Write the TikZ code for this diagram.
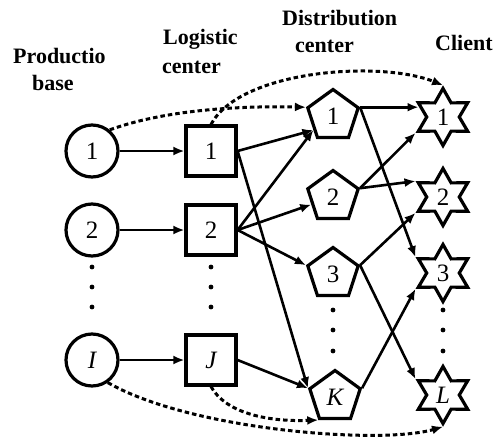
\documentclass[tikz,border=0pt]{standalone}
\usepackage{fontspec}
\setmainfont{Liberation Serif}
\usetikzlibrary{shapes.geometric,arrows.meta,calc}
\begin{document}
\begin{tikzpicture}[x=1pt,y=-1pt,
  every node/.style={inner sep=0pt},
  lbl/.style={font=\fontsize{25}{25}\selectfont},
  prod/.style={lbl,circle,draw,line width=3.2pt,minimum size=52pt},
  logi/.style={lbl,rectangle,draw,line width=3.2pt,minimum size=50pt},
  dist/.style={lbl,regular polygon,regular polygon sides=5,draw,line width=3.2pt,minimum size=53pt},
  cli/.style={lbl,star,star points=6,star point ratio=1.75,draw,line width=3.2pt,minimum size=57pt},
  head/.style={anchor=base west,font=\bfseries\fontsize{22}{22}\selectfont},
  arr/.style={line width=2.6pt,-{Latex[length=11pt,width=9pt]}},
  darr/.style={line width=3pt,dash pattern=on 4.5pt off 3pt,-{Latex[length=11pt,width=9pt]}},
]
\useasboundingbox (0,0) rectangle (493,442);

% headers
\node[head] (hp1) at (13,63) {Productio};
\node[head] (hp2) at (32,90) {base};
\node[head] (hl1) at (163,44) {Logistic};
\node[head] (hl2) at (162,73) {center};
\node[head] (hd1) at (282,25) {Distribution};
\node[head] (hd2) at (295,52) {center};
\node[head] (hc1) at (435,50) {Client};

% production bases
\node[prod] (c1) at (92,151) {1};
\node[prod] (c2) at (92,230) {2};
\node[prod] (cI) at (92,360) {\itshape I};
% logistic centers
\node[logi] (s1) at (211,151) {1};
\node[logi] (s2) at (211,230) {2};
\node[logi] (sJ) at (211,360) {\itshape J};
% distribution centers
\node[dist] (p1) at (333,116) {1};
\node[dist] (p2) at (333,197) {2};
\node[dist] (p3) at (333,274) {3};
\node[dist] (pK) at (335,397) {\itshape K};
% clients
\node[cli] (t1) at (443,117) {1};
\node[cli] (t2) at (443,197) {2};
\node[cli] (t3) at (443,273) {3};
\node[cli] (tL) at (443,395) {\itshape L};

% vertical dots
\foreach \y in {267,287,307} {
  \fill (92,\y) circle (2.4pt);
  \fill (211,\y) circle (2.4pt);
}
\foreach \y in {310,330,351} {
  \fill (333,\y) circle (2.4pt);
  \fill (443,\y) circle (2.4pt);
}

% helper points
\coordinate (p1in) at ($(p1.corner 2)!0.72!(p1.corner 3)$);
\coordinate (t1in) at ($(p1.corner 5 -| t1.outer point 2)+(3,0)$);

% solid flows
\draw[arr] (c1) -- (s1);
\draw[arr] (c2) -- (s2);
\draw[arr] (cI) -- (sJ);
\draw[arr] (s1.east) -- (p1in);
\draw[arr] (s1.east) -- (pK.corner 2);
\draw[arr] (s2.east) -- (p1in);
\draw[arr] (s2.east) -- (p2);
\draw[arr] (s2.east) -- (p3.corner 2);
\draw[arr] (sJ.east) -- (pK.corner 2);
\draw[arr] (p1.corner 5) -- (t1in);
\draw[arr] (p1.corner 5) -- (t3.outer point 2);
\draw[arr] (p2.corner 5) -- (t1.outer point 3);
\draw[arr] (p2.corner 5) -- (t2.outer point 2);
\draw[arr] (p3.corner 5) -- (t2.outer point 3);
\draw[arr] (p3.corner 5) -- (tL.outer point 2);
\draw[arr] (pK.corner 5) -- (t3.outer point 3);

% dashed direct flows
\draw[darr] (c1.50) .. controls (170,108) and (250,106) .. (p1.corner 2);
\draw[darr] (s1.north) .. controls (240,70) and (380,60) .. (t1.outer point 1);
\draw[darr] (cI.-55) .. controls (190,430) and (380,445) .. (tL.outer point 4);
\draw[darr] (sJ.south) .. controls (225,412) and (265,422) .. (pK.corner 3);
\end{tikzpicture}
\end{document}
